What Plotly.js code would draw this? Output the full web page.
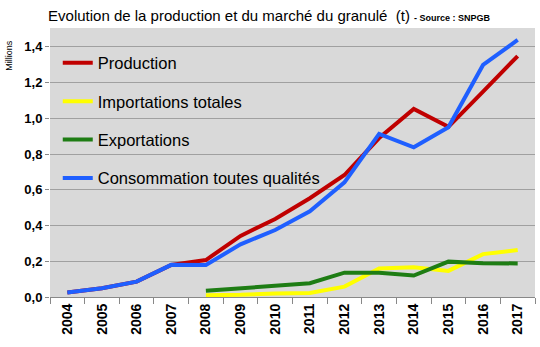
<!DOCTYPE html>
<html><head><meta charset="utf-8">
<script src="https://cdn.plot.ly/plotly-3.0.1.min.js"></script>
<style>body{margin:0;background:#fff}#c{width:540px;height:347px}</style>
</head><body><div id="c"></div>
<script>
const years = ['2004','2005','2006','2007','2008','2009','2010','2011','2012','2013','2014','2015','2016','2017'];
const production = [0.025,0.049,0.086,0.18,0.207,0.342,0.437,0.553,0.683,0.89,1.053,0.953,1.15,1.349];
const importations = [null,null,null,null,0.01,0.012,0.02,0.022,0.058,0.16,0.166,0.146,0.24,0.263];
const exportations = [null,null,null,null,0.035,0.049,0.067,0.077,0.136,0.136,0.12,0.198,0.189,0.188];
const consommation = [0.025,0.049,0.086,0.18,0.179,0.295,0.375,0.48,0.642,0.913,0.838,0.95,1.299,1.439];
const names = ['Production','Importations totales','Exportations','Consommation toutes qualités'];
const colors = ['#c00000','#ffff00','#1e7d14','#1f5fff'];
const series = [production, importations, exportations, consommation];
const traces = series.map((s,i)=>({
  x: years, y: s, type:'scatter', mode:'lines', name: names[i], legendgroup:'g'+i,
  line:{color:colors[i], width:4}, hoverinfo:'skip'
}));
const layout = {
  width:540, height:347,
  margin:{l:50, r:5, t:28, b:50},
  paper_bgcolor:'#ffffff', plot_bgcolor:'#d9d9d9',
  separators:', ',
  font:{family:'Liberation Sans, Arial, sans-serif', color:'#000'},
  title:{text:'Evolution de la production et du marché du granulé  (t) <span style="font-size:9px;font-weight:bold">- Source : SNPGB</span>',
    x:0.089, xanchor:'left', y:0.955, yanchor:'middle', font:{size:15, color:'#000'}},
  showlegend:true,
  legend:{x:0.016, y:0.935, xanchor:'left', yanchor:'top', bgcolor:'rgba(0,0,0,0)',
    font:{size:16.5, color:'#000'}, tracegroupgap:14, itemwidth:30},
  xaxis:{type:'category', tickson:'boundaries', ticks:'outside', ticklen:6, tickcolor:'#888',
    tickangle:-90, tickfont:{size:14, color:'#000', family:'Liberation Sans, Arial, sans-serif', weight:'bold'},
    showgrid:false, showline:true, linecolor:'#888', linewidth:1, range:[-0.5,13.5], fixedrange:true},
  yaxis:{range:[0,1.506], dtick:0.2, tickformat:'.1f', ticks:'outside', ticklen:4, tickcolor:'#888',
    showgrid:true, gridcolor:'#a0a0a0', gridwidth:1, zeroline:false, showline:false,
    tickfont:{size:13, color:'#000', weight:'bold'}, fixedrange:true},
  annotations:[{text:'Millions', xref:'paper', yref:'paper', x:-0.085, y:0.9, textangle:-90,
    showarrow:false, font:{size:9, color:'#000'}, xanchor:'center', yanchor:'middle'}]
};
Plotly.newPlot('c', traces, layout, {displayModeBar:false, staticPlot:true});
</script></body></html>
